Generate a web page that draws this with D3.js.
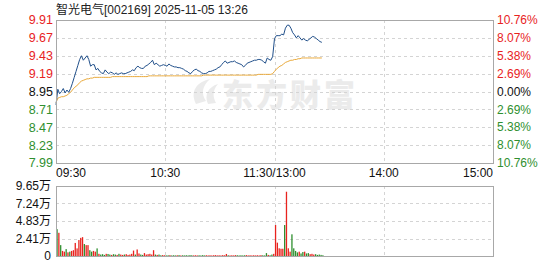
<html>
<head>
<style>
body{margin:0;background:#fff;}
svg{display:block;font-family:"Liberation Sans",Arial,"Noto Sans CJK SC",sans-serif;}
.grid{stroke:#d4d4d4;stroke-dasharray:3,3;stroke-width:1;}
.frame{fill:none;stroke:#a8a8a8;stroke-width:1;}
</style>
<script src="https://d3js.org/d3.v7.min.js"></script>
</head>
<body>
<svg id="chart" width="549" height="262"></svg>
<script>
// minute data 09:30 .. 13:26
const preClose = 8.95;
const price = [8.77,8.98,8.92,8.95,8.99,8.93,8.97,8.94,8.99,9.06,
9.14,9.22,9.30,9.38,9.43,9.37,9.40,9.43,9.38,9.29,
9.31,9.31,9.24,9.26,9.22,9.20,9.19,9.24,9.21,9.19,
9.21,9.20,9.18,9.20,9.18,9.19,9.20,9.19,9.19,9.20,
9.21,9.22,9.24,9.23,9.27,9.29,9.27,9.26,9.26,9.29,
9.30,9.32,9.34,9.37,9.31,9.33,9.31,9.29,9.30,9.31,
9.30,9.29,9.32,9.30,9.29,9.28,9.28,9.27,9.27,9.26,
9.25,9.23,9.22,9.20,9.19,9.22,9.24,9.25,9.23,9.22,
9.20,9.19,9.19,9.20,9.22,9.22,9.23,9.24,9.25,9.27,
9.28,9.31,9.34,9.36,9.33,9.34,9.35,9.35,9.36,9.34,
9.33,9.32,9.31,9.28,9.30,9.33,9.34,9.35,9.36,9.37,
9.37,9.38,9.38,9.37,9.35,9.33,9.40,9.38,9.37,9.42,
9.66,9.70,9.70,9.70,9.72,9.71,9.80,9.84,9.84,9.80,
9.74,9.71,9.67,9.70,9.67,9.64,9.66,9.64,9.63,9.65,
9.67,9.69,9.68,9.66,9.64,9.62,9.61];
const avg = [8.80,8.86,8.87,8.88,8.88,8.89,8.90,8.92,8.94,8.97,
9.00,9.02,9.04,9.07,9.09,9.10,9.11,9.12,9.12,9.13,
9.13,9.14,9.14,9.14,9.14,9.14,9.14,9.14,9.14,9.14,
9.14,9.15,9.15,9.15,9.15,9.15,9.15,9.15,9.15,9.15,
9.15,9.15,9.15,9.15,9.15,9.15,9.15,9.15,9.15,9.15,
9.15,9.16,9.16,9.16,9.16,9.16,9.16,9.16,9.16,9.16,
9.16,9.16,9.16,9.16,9.16,9.16,9.16,9.16,9.16,9.16,
9.16,9.16,9.16,9.16,9.16,9.16,9.16,9.16,9.16,9.16,
9.16,9.17,9.17,9.17,9.17,9.17,9.17,9.17,9.17,9.17,
9.17,9.17,9.17,9.17,9.17,9.17,9.17,9.17,9.17,9.17,
9.17,9.17,9.17,9.17,9.17,9.17,9.17,9.17,9.17,9.17,
9.17,9.18,9.18,9.18,9.18,9.18,9.18,9.18,9.18,9.19,
9.22,9.25,9.27,9.29,9.30,9.32,9.34,9.35,9.36,9.37,
9.37,9.38,9.38,9.39,9.39,9.40,9.40,9.40,9.40,9.40,
9.40,9.40,9.40,9.40,9.40,9.40,9.40];
const volume = [3.70,3.20,1.50,0.70,0.60,0.95,0.50,0.60,0.70,0.80,
1.80,1.05,2.20,2.50,2.60,1.65,1.50,1.50,0.80,0.60,
0.70,0.60,1.05,0.30,0.20,0.25,0.15,0.30,0.28,0.20,
0.15,0.25,0.20,0.15,0.30,0.20,0.15,0.20,0.25,0.15,
0.20,0.30,0.75,0.20,0.90,0.35,0.20,0.15,0.40,0.20,
0.25,0.30,0.20,0.80,0.20,0.15,0.20,0.10,0.12,0.10,
0.08,0.10,0.12,0.08,0.10,0.08,0.10,0.12,0.08,0.10,
0.08,0.10,0.08,0.12,0.10,0.08,0.10,0.08,0.10,0.08,
0.12,0.08,0.10,0.08,0.10,0.08,0.10,0.12,0.08,0.10,
0.08,0.12,0.10,0.28,0.10,0.08,0.10,0.08,0.12,0.10,
0.08,0.10,0.08,0.10,0.12,0.08,0.10,0.08,0.10,0.08,
0.10,0.08,0.12,0.10,0.08,0.40,0.15,0.10,0.20,0.30,
4.27,1.84,1.06,1.00,1.00,4.27,8.86,1.06,0.60,2.99,
1.06,0.70,0.50,0.60,0.35,0.55,0.60,0.35,0.40,0.25,
0.30,0.20,0.25,0.15,0.20,0.15,0.10];

const priceTicks = [9.91,9.67,9.43,9.19,8.95,8.71,8.47,8.23,7.99];
const pctLabels = ["10.76%","8.07%","5.38%","2.69%","0.00%","2.69%","5.38%","8.07%","10.76%"];
const volTicks = [9.65,7.24,4.83,2.41,0];
const volLabels = ["9.65万","7.24万","4.83万","2.41万","0"];
const timeTicks = [0,60,120,180,240];
const timeLabels = ["09:30","10:30","11:30/13:00","14:00","15:00"];
const title = "智光电气[002169] 2025-11-05 13:26";

const red = "#e8231e", green = "#2f8f2f";
const svg = d3.select("#chart");

const x = d3.scaleLinear().domain([0,240]).range([56,493]);
const yP = d3.scaleLinear().domain([7.99,9.91]).range([163,20]);
const yV = d3.scaleLinear().domain([0,9.65]).range([256,186]);

svg.append("text").attr("x",56).attr("y",9.5).attr("dy","0.35em")
  .attr("font-size",12).attr("fill","#222")
  .attr("font-family","'Liberation Sans','Noto Sans CJK SC',sans-serif")
  .text(title);

// watermark
const wm = svg.append("g").attr("fill","#ebebeb");
wm.append("path").attr("d","M196,104 C190,92 196,82 210,79 C202,86 201,94 206,101 Z M208,104 C204,95 208,87 218,84 C212,91 213,97 216,103 Z");
wm.append("text").attr("x",222).attr("y",106).attr("font-size",31).attr("font-weight",900)
  .attr("font-family","'Noto Sans CJK SC',sans-serif").attr("letter-spacing",3).text("东方财富");

// grid lines
const g = svg.append("g");
g.selectAll(".hp").data(priceTicks.slice(1,-1)).enter().append("line").attr("class","grid")
  .attr("x1",x(0)).attr("x2",x(240)).attr("y1",d=>Math.round(yP(d))+0.5).attr("y2",d=>Math.round(yP(d))+0.5);
g.selectAll(".hv").data(volTicks.slice(1,-1)).enter().append("line").attr("class","grid")
  .attr("x1",x(0)).attr("x2",x(240)).attr("y1",d=>Math.round(yV(d))+0.5).attr("y2",d=>Math.round(yV(d))+0.5);
[[yP(9.91),yP(7.99)],[yV(9.65),yV(0)]].forEach(r=>{
  g.selectAll(null).data(timeTicks.slice(1,-1)).enter().append("line").attr("class","grid")
    .attr("x1",d=>Math.round(x(d))+0.5).attr("x2",d=>Math.round(x(d))+0.5).attr("y1",r[0]).attr("y2",r[1]);
});

// volume bars
svg.append("g").selectAll("rect").data(volume).enter().append("rect")
  .attr("x",(d,i)=>x(i)+0.4).attr("width",1.3)
  .attr("y",d=>yV(d)).attr("height",d=>yV(0)-yV(d))
  .attr("fill",(d,i)=>price[i] >= (i ? price[i-1] : preClose) ? red : green);

// avg and price lines
const line = d3.line().x((d,i)=>x(i));
svg.append("path").datum(avg).attr("fill","none").attr("stroke","#e9a93a").attr("stroke-width",1)
  .attr("d",line.y(d=>yP(d)));
svg.append("path").datum(price).attr("fill","none").attr("stroke","#204f8a").attr("stroke-width",1)
  .attr("d",line.y(d=>yP(d)));

// frames
svg.append("rect").attr("class","frame").attr("x",x(0)+0.5).attr("y",yP(9.91)+0.5)
  .attr("width",x(240)-x(0)).attr("height",yP(7.99)-yP(9.91));
svg.append("rect").attr("class","frame").attr("x",x(0)+0.5).attr("y",yV(9.65)+0.5)
  .attr("width",x(240)-x(0)).attr("height",yV(0)-yV(9.65));

// labels
const colorFor = d => d > preClose ? red : (d < preClose ? green : "#111");
svg.append("g").selectAll("text").data(priceTicks).enter().append("text")
  .attr("x",53).attr("y",d=>yP(d)).attr("dy","0.35em").attr("text-anchor","end")
  .attr("font-size",12.5).attr("fill",colorFor).text(d=>d.toFixed(2));
svg.append("g").selectAll("text").data(priceTicks).enter().append("text")
  .attr("x",497).attr("y",d=>yP(d)).attr("dy","0.35em")
  .attr("font-size",12).attr("fill",colorFor).text((d,i)=>pctLabels[i]);
svg.append("g").selectAll("text").data(volTicks).enter().append("text")
  .attr("x",51).attr("y",d=>yV(d)).attr("dy","0.35em").attr("text-anchor","end")
  .attr("font-size",12).attr("fill","#111").text((d,i)=>volLabels[i]);
svg.append("g").selectAll("text").data(timeTicks).enter().append("text")
  .attr("x",d=>x(d)).attr("y",173).attr("dy","0.35em")
  .attr("text-anchor",(d,i)=>i==0?"start":(i==timeTicks.length-1?"end":"middle"))
  .attr("font-size",12).attr("fill","#111").text((d,i)=>timeLabels[i]);
</script>
</body>
</html>
